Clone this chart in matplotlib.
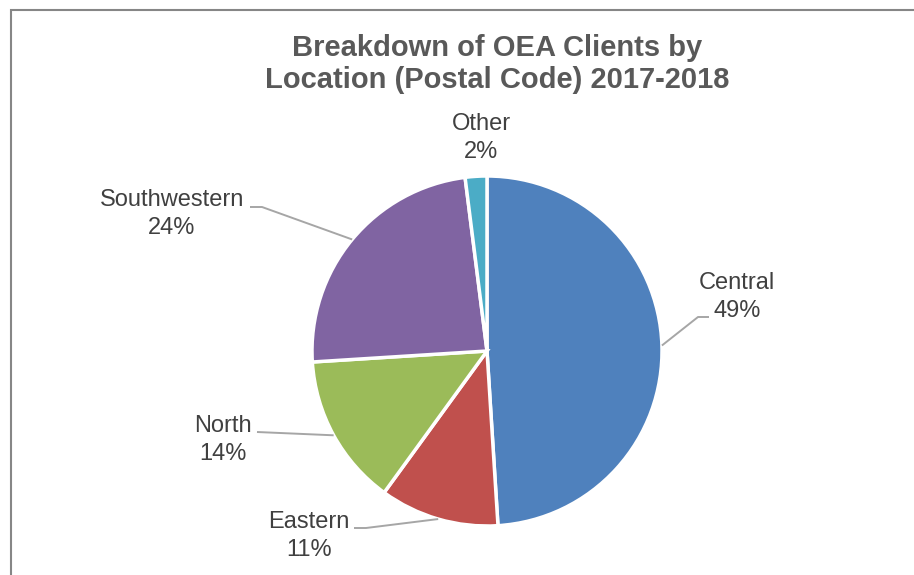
import numpy as np
import matplotlib
matplotlib.use("Agg")
import matplotlib.pyplot as plt
from matplotlib.patches import Rectangle

categories = ["Central", "Eastern", "North", "Southwestern", "Other"]
values = [49, 11, 14, 24, 2]
colors = ["#4F81BD", "#C0504D", "#9BBB59", "#8064A2", "#4BACC6"]
title = "Breakdown of OEA Clients by\nLocation (Postal Code) 2017-2018"

plt.rcParams['font.family'] = ['Liberation Sans', 'DejaVu Sans']

W, H = 914, 575
fig = plt.figure(figsize=(W / 100, H / 100), dpi=100)
ax = fig.add_axes([0, 0, 1, 1])
ax.set_xlim(0, W)
ax.set_ylim(0, H)
ax.set_aspect('equal')
ax.axis('off')

# chart border (cropped at right/bottom)
fig.patches.append(Rectangle((10.5 / W, -0.1), 1.2, (H - 9.5) / H + 0.1,
                             transform=fig.transFigure, fill=False,
                             edgecolor="#868686", linewidth=1.5))

cx, cy, r = 487, H - 351, 175
wedges, _ = ax.pie(values, colors=colors, startangle=90, counterclock=False,
                   center=(cx, cy), radius=r,
                   wedgeprops=dict(edgecolor="white", linewidth=2.5))
ax.set_xlim(0, W)
ax.set_ylim(0, H)

def edge_point(w):
    ang = np.deg2rad((w.theta1 + w.theta2) / 2)
    return cx + r * np.cos(ang), cy + r * np.sin(ang)

# label positions (layout, in pixels from top-left)
label_pos = {
    "Central": (737, 297),
    "Eastern": (309, 536),
    "North": (223, 440),
    "Southwestern": (172, 214),
    "Other": (481, 138),
}
# leader line intermediate points (pixels from top-left)
leaders = {
    "Central": [(709, 317), (698, 317)],
    "Eastern": [(354, 528), (366, 528)],
    "North": [(257, 432)],
    "Southwestern": [(250, 207), (262, 207)],
}

txtc = "#404040"
for w, cat, v in zip(wedges, categories, values):
    lx, ly = label_pos[cat]
    ax.text(lx, H - ly, f"{cat}\n{v}%", ha="center", va="center",
            fontsize=17, color=txtc, linespacing=1.3)
    if cat in leaders:
        ex, ey = edge_point(w)
        pts = [(x, H - y) for x, y in leaders[cat]] + [(ex, ey)]
        xs, ys = zip(*pts)
        ax.plot(xs, ys, color="#A6A6A6", linewidth=1.4, solid_capstyle="butt")

fig.text(497 / W, 1 - 64 / H, title, ha="center", va="center",
         fontsize=21, fontweight="bold", color="#595959", linespacing=1.22)

fig.savefig("out.png", dpi=100)
